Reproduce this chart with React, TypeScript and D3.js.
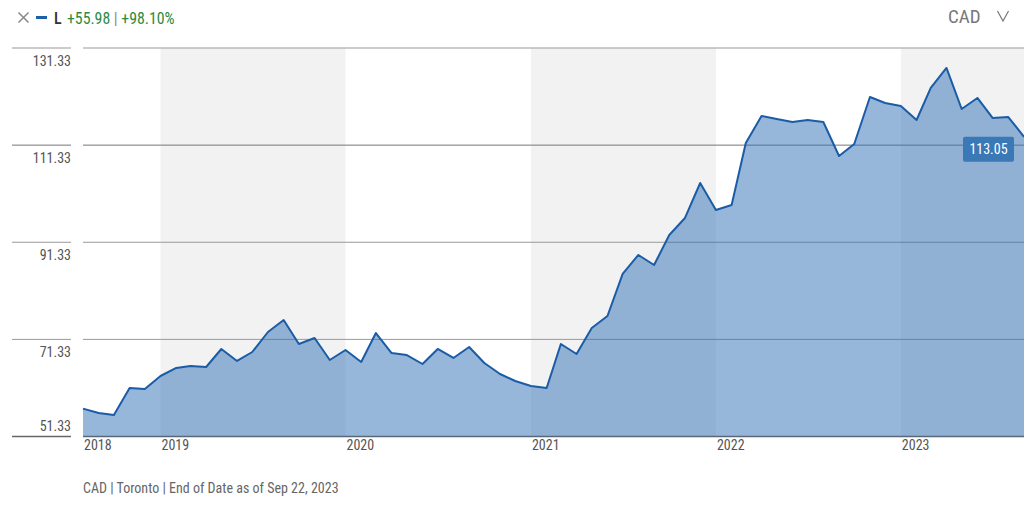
import React from 'react';
import * as d3 from 'd3';

// monthly closing values, Aug 2018 .. Sep 2023
const values = [
  57.07, 56.17, 55.76, 61.32, 61.11, 63.79, 65.44, 65.85, 65.64, 69.35,
  66.88, 68.73, 72.85, 75.32, 70.38, 71.62, 67.08, 69.14, 66.67, 72.64,
  68.52, 68.11, 66.26, 69.35, 67.5, 69.76, 66.47, 64.2, 62.76, 61.73,
  61.32, 70.38, 68.32, 73.67, 76.14, 84.8, 88.71, 86.65, 92.82, 96.33,
  103.53, 97.97, 99.0, 111.77, 117.33, 116.71, 116.1, 116.51, 116.1, 109.09,
  111.56, 121.24, 120.01, 119.39, 116.51, 123.1, 127.22, 118.77, 121.04, 116.92,
  117.12, 113.05,
];
const startMonth = new Date(2018, 7, 1);
const dates = d3.timeMonth.range(startMonth, new Date(2023, 8, 2));
const data = values.map((v, i) => ({ date: dates[i], value: v }));

const yTicks = [51.33, 71.33, 91.33, 111.33, 131.33];
const yearLabels = ['2018', '2019', '2020', '2021', '2022', '2023'];
const shadedYears = [2019, 2021, 2023];
const lastValue = '113.05';
const changeAbs = '+55.98';
const changePct = '+98.10%';
const footer = 'CAD | Toronto | End of Date as of Sep 22, 2023';

const W = 1024;
const H = 510;
const plot = { left: 83, right: 1024, top: 48, bottom: 436.5 };
const FONT = '"Liberation Sans Narrow", "Roboto Condensed", "DejaVu Sans Condensed", Roboto, sans-serif';

export default function App() {
  const x = d3.scaleTime()
    .domain([dates[0], dates[dates.length - 1]])
    .range([plot.left, plot.right]);
  const y = d3.scaleLinear()
    .domain([51.33, 131.33])
    .range([plot.bottom, plot.top]);

  const area = d3.area<{ date: Date; value: number }>()
    .x(d => x(d.date))
    .y0(plot.bottom)
    .y1(d => y(d.value));
  const line = d3.line<{ date: Date; value: number }>()
    .x(d => x(d.date))
    .y(d => y(d.value));

  const yearX = (yr: number) => Math.max(plot.left, x(new Date(yr, 0, 1)));
  const yLast = y(113.05);
  const gridColor = (i: number) => (i === 0 ? '#666' : i === 3 ? '#777' : '#999');

  return (
    <svg width={W} height={H} style={{ position: 'absolute', left: 0, top: 0, fontFamily: FONT }}>
      <rect width={W} height={H} fill="#fff" />

      {/* header */}
      <path d="M18.5,12.5 L28.5,22.5 M28.5,12.5 L18.5,22.5" stroke="#888" strokeWidth={1.5} />
      <rect x={36} y={16} width={11} height={3} fill="#1f5fa6" />
      <text x={54} y={23.5} fontSize={16} fill="#333" fontWeight={500}>L</text>
      <text x={67} y={23.5} fontSize={15.8} fill="#2a8a3e">
        {changeAbs}<tspan fill="#888"> | </tspan>{changePct}
      </text>
      <text x={948} y={23} fontSize={19} fill="#777">CAD</text>
      <path d="M997.5,11 L1003,21 L1008.5,11" fill="none" stroke="#777" strokeWidth={1.2} />

      {/* year bands */}
      {shadedYears.map(yr => (
        <rect key={yr} x={yearX(yr)} y={plot.top}
          width={Math.min(plot.right, x(new Date(yr + 1, 0, 1))) - yearX(yr)}
          height={plot.bottom - plot.top} fill="#f2f2f2" />
      ))}

      {/* gridlines */}
      {yTicks.map((t, i) => (
        <g key={t}>
          <line x1={12} x2={71} y1={y(t)} y2={y(t)} stroke={gridColor(i)} strokeWidth={i === 0 ? 1.5 : 1} />
          <line x1={plot.left} x2={plot.right} y1={y(t)} y2={y(t)} stroke={gridColor(i)} strokeWidth={i === 0 ? 1.5 : 1} />
          <text x={71} y={i === 0 ? y(t) - 6 : y(t) + 18} textAnchor="end" fontSize={14} fill="#555">
            {t.toFixed(2)}
          </text>
        </g>
      ))}

      <path d={area(data) ?? ''} fill="#2f6fb5" fillOpacity={0.5} />
      <path d={line(data) ?? ''} fill="none" stroke="#1a5ca6" strokeWidth={2} strokeLinejoin="round" />

      {/* year labels */}
      {yearLabels.map(l => (
        <text key={l} x={yearX(+l) + 1} y={450} fontSize={14} fill="#555">{l}</text>
      ))}

      {/* last value tag */}
      <rect x={963} y={yLast} width={51} height={25} rx={2} fill="#3b78b6" />
      <text x={988.5} y={yLast + 17.5} textAnchor="middle" fontSize={14} fill="#fff">{lastValue}</text>

      <text x={83} y={493} fontSize={14} fill="#666">{footer}</text>
    </svg>
  );
}
